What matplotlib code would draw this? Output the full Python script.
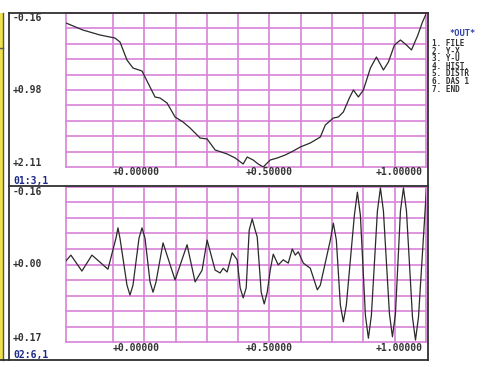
import numpy as np
from matplotlib import pyplot as plt

# top trace (x, y)
x1=[-0.188,-0.12,-0.052,0.008,0.028,0.056,0.08,0.116,0.14,0.168,0.188,0.216,0.248,0.28,0.308,0.348,0.376,0.408,0.456,0.488,0.52,0.536,0.56,0.58,0.6,0.628,0.656,0.688,0.72,0.748,0.788,0.828,0.848,0.88,0.9,0.92,0.944,0.96,0.98,1.0,1.028,1.052,1.08,1.1,1.124,1.148,1.172,1.192,1.216,1.236,1.252]
y1=[-0.013,0.091,0.164,0.209,0.267,0.533,0.651,0.695,0.872,1.078,1.093,1.167,1.373,1.447,1.535,1.683,1.697,1.859,1.918,1.977,2.066,1.963,2.007,2.066,2.11,2.007,1.977,1.933,1.874,1.815,1.756,1.668,1.491,1.388,1.373,1.299,1.093,0.975,1.078,0.975,0.651,0.489,0.68,0.562,0.312,0.238,0.312,0.385,0.179,-0.027,-0.16]

# bottom trace
x2=[-0.192,-0.168,-0.124,-0.084,-0.02,0.012,0.02,0.028,0.056,0.068,0.08,0.104,0.116,0.128,0.148,0.16,0.172,0.2,0.248,0.296,0.328,0.356,0.376,0.408,0.428,0.44,0.456,0.476,0.496,0.508,0.52,0.532,0.544,0.556,0.568,0.576,0.592,0.604,0.616,0.628,0.64,0.66,0.68,0.7,0.716,0.728,0.74,0.76,0.788,0.816,0.828,0.868,0.88,0.892,0.908,0.92,0.932,0.964,0.976,0.988,1.008,1.02,1.032,1.056,1.068,1.08,1.104,1.116,1.128,1.148,1.16,1.172,1.196,1.208,1.22,1.252]
y2=[0.0,-0.015,0.019,-0.015,0.015,-0.051,-0.073,-0.051,0.049,0.07,0.049,-0.051,-0.073,-0.051,0.042,0.064,0.042,-0.041,0.038,-0.037,0.042,0.017,-0.047,0.017,0.023,0.013,0.021,-0.02,-0.005,0.055,0.076,0.055,-0.068,-0.092,-0.068,-0.054,0.064,0.089,0.064,0.017,-0.017,0.006,-0.005,0.002,-0.028,-0.015,-0.022,0.002,0.013,0.059,0.049,-0.047,-0.083,-0.047,0.091,0.127,0.091,-0.1,-0.149,-0.1,0.113,0.162,0.113,-0.109,-0.158,-0.109,0.11,0.159,0.11,-0.109,-0.158,-0.109,0.117,0.166,0.117,-0.158]

ylab1=['-0.16','+0.98','+2.11']
ylab2=['-0.16','+0.00','+0.17']
xlab=['+0.00000','+0.50000','+1.00000']
menu=['1. FILE','2. Y-X','3. Y-U','4. HIST.','5. DISTR','6. DAS 1','7. END']

W,H=484,367
fig=plt.figure(figsize=(W/100,H/100),dpi=100)
grid_c='#d883d8'
line_c='#2a2a2a'
mono='DejaVu Sans Mono'

def panel(top,bot,xs,ys,ylim):
    ax=fig.add_axes([66/W,1-bot/H,360/W,(bot-top)/H])
    ax.set_xlim(-0.1875,1.25)
    ax.set_ylim(ylim[1],ylim[0])
    ax.axis('off')
    for v in list(np.arange(0,1.2,0.125))+[-0.1875,1.25]:
        ax.axvline(v,color=grid_c,lw=1.2,clip_on=False,zorder=1)
    for h in np.linspace(ylim[0],ylim[1],11):
        ax.axhline(h,color=grid_c,lw=1.2,clip_on=False,zorder=1)
    ax.plot(xs,ys,color=line_c,lw=0.9,zorder=2)
    return ax

panel(13,167,x1,y1,(-0.16,2.11))
panel(187,342,x2,y2,(-0.16,0.17))

ov=fig.add_axes([0,0,1,1],zorder=5)
ov.set_xlim(0,W); ov.set_ylim(H,0); ov.axis('off'); ov.patch.set_visible(False)
# yellow side strip and frame
ov.fill_between([0,3],13,360,color='#f0e04a',lw=0)
ov.plot([3,3],[13,360],color='#555555',lw=1)
ov.plot([0,3],[48,48],color='#555555',lw=1)
fc='#303030'
ov.plot([9,428],[13,13],color=fc,lw=1.3)
ov.plot([9,428],[186,186],color=fc,lw=1.3)
ov.plot([0,428],[360,360],color=fc,lw=1.3)
ov.plot([9,9],[13,360],color=fc,lw=1.3)
ov.plot([428,428],[13,360],color=fc,lw=1.3)

kw=dict(family=mono,fontsize=7,fontweight='bold',color='#333333',va='center')
for t,yy in zip(ylab1,[18,90,163]):
    ov.text(13,yy,t,**kw)
for t,yy in zip(ylab2,[192,264,338]):
    ov.text(13,yy,t,**kw)
for t,xx in zip(xlab,[113,246,376]):
    ov.text(xx,172,t,**kw)
    ov.text(xx,348,t,**kw)
ov.text(13,181,'01:3,1',family=mono,fontsize=7,fontweight='bold',color='#1c2a8a',va='center')
ov.text(13,355,'02:6,1',family=mono,fontsize=7,fontweight='bold',color='#1c2a8a',va='center')
ov.text(449,33,'*OUT*',family=mono,fontsize=6.3,fontweight='bold',color='#3344aa',va='center')
ov.text(432,39,'\n'.join(menu),family=mono,fontsize=5.5,fontweight='bold',color='#333333',
        va='top',linespacing=0.8)

plt.savefig('out.png',dpi=100)
